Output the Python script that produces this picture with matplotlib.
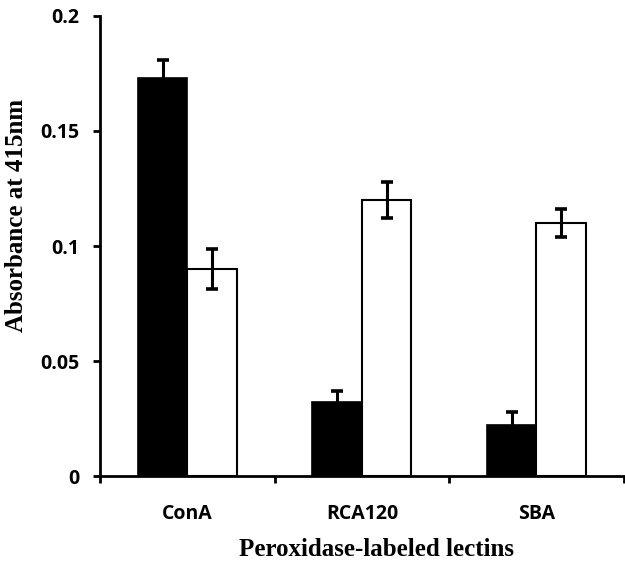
import matplotlib
matplotlib.use("Agg")
import matplotlib.pyplot as plt
import numpy as np

categories = ["ConA", "RCA120", "SBA"]
black_vals = [0.173, 0.032, 0.022]
black_err = [0.008, 0.005, 0.006]
white_vals = [0.090, 0.120, 0.110]
white_err = [0.0085, 0.0078, 0.006]
yticks = [0, 0.05, 0.1, 0.15, 0.2]
ytick_labels = ["0", "0.05", "0.1", "0.15", "0.2"]

fig = plt.figure(figsize=(6.25, 5.63), dpi=100)
ax = fig.add_axes([0.16, 0.1545, 0.838, 0.8171])

x = np.arange(len(categories)) + 0.5
w = 0.283
ax.bar(x - w/2, black_vals, w, color="black", edgecolor="black", linewidth=1.2, zorder=2)
ax.bar(x + w/2, white_vals, w, color="white", edgecolor="black", linewidth=1.5, zorder=2)
ax.errorbar(x - w/2, black_vals, yerr=black_err, fmt="none", ecolor="black",
            elinewidth=2.2, capsize=4, capthick=2.6, zorder=3)
ax.errorbar(x + w/2, white_vals, yerr=white_err, fmt="none", ecolor="black",
            elinewidth=2.2, capsize=4, capthick=2.6, zorder=3)

ax.set_xlim(0, 3)
ax.set_ylim(0, 0.2)
for s in ["top", "right"]:
    ax.spines[s].set_visible(False)
for s in ["left", "bottom"]:
    ax.spines[s].set_linewidth(2)

ax.set_yticks(yticks)
ax.set_yticklabels(ytick_labels, fontfamily="Open Sans", fontweight="bold", fontsize=14)
ax.tick_params(axis="y", direction="out", length=5, width=2, pad=10)

ax.set_xticks([0, 1, 2, 3])
ax.set_xticklabels([])
ax.tick_params(axis="x", which="major", direction="out", length=5, width=2)
ax.set_xticks(x, minor=True)
ax.set_xticklabels(categories, minor=True, fontfamily="Open Sans", fontweight="bold", fontsize=14)
ax.tick_params(axis="x", which="minor", length=0, pad=20)

ax.set_xlabel("Peroxidase-labeled lectins", fontfamily="Liberation Serif",
              fontweight="bold", fontsize=18, labelpad=7)
ax.set_ylabel("Absorbance at 415nm", fontfamily="Liberation Serif",
              fontweight="bold", fontsize=18, labelpad=8)
ax.xaxis.set_label_coords(0.528, -0.135)
ax.yaxis.set_label_coords(-0.137, 0.567)

fig.savefig("out.png", dpi=100)
